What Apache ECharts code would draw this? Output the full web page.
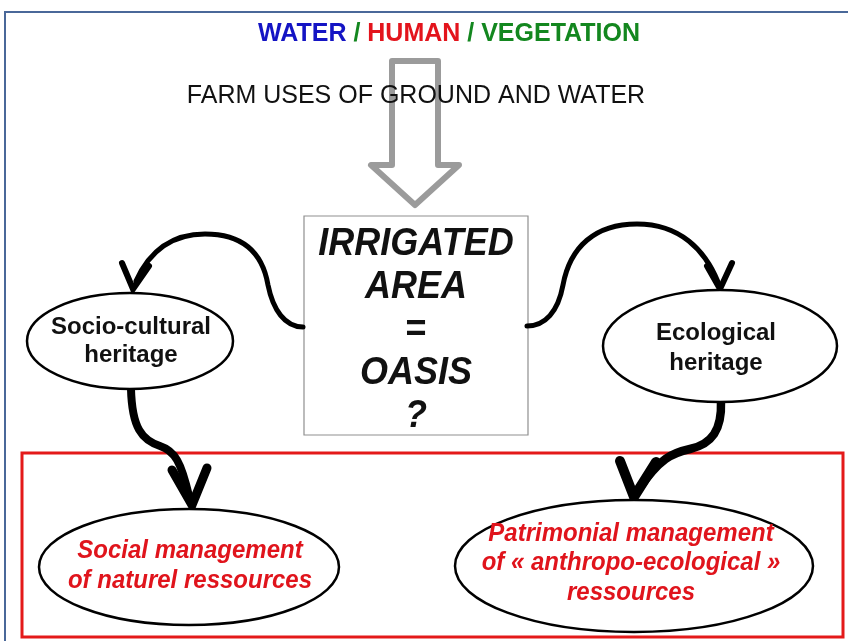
<!DOCTYPE html>
<html><head><meta charset="utf-8">
<script src="https://cdn.jsdelivr.net/npm/echarts@6/dist/echarts.min.js"></script>
<style>html,body{margin:0;padding:0;background:#fff}#c{width:848px;height:641px}</style>
</head><body><div id="c"></div>
<script>
// ---- text content (data) ----
const titleParts = ['WATER', '/', 'HUMAN', '/', 'VEGETATION'];
const subtitle = 'FARM USES OF GROUND AND WATER';
const centerLines = ['IRRIGATED', 'AREA', '=', 'OASIS', '?'];
const heritageLabels = ['Socio-cultural\nheritage', 'Ecological\nheritage'];
const managementLabels = ['Social management\nof naturel ressources', 'Patrimonial management\nof « anthropo-ecological »\nressources'];

// ---- layout (diagram space, same units as hidden axes) ----
const FONT = "'Liberation Sans', Arial, sans-serif";
const titleColors = ['#1414c4', '#13871f', '#e3141c', '#13871f', '#13871f'];
const titlePos = [449, 34];
const subtitlePos = [416, 96];
const grayArrow = [[392,61],[438,61],[438,165],[459,165],[415,205],[371,165],[392,165]];
const box = {x:304, y:216, w:224, h:219};
const centerLineY = [244, 287, 330, 373, 416];
const heritageShapes = [
  {cx:130, cy:341, rx:103, ry:48, tx:131, ty:341, lh:28, sy:1.0},
  {cx:720, cy:346, rx:117, ry:56, tx:716, ty:348, lh:30, sy:1.0}
];
const managementShapes = [
  {cx:189, cy:567, rx:150, ry:58, tx:190, ty:566, lh:27, sy:1.1},
  {cx:634, cy:566, rx:179, ry:66, tx:631, ty:563, lh:27, sy:1.1}
];
const redBox = {x:22, y:453, w:821, h:184};
// curves: [start, c1, c2, end, c1, c2, end, ...]
const curves = [
  {pts:[[303,327],[285,327],[273,310],[268,285],[262,250],[240,234],[205,234],[172,234],[150,250],[136,281]], w:5},
  {pts:[[527,326],[545,326],[558,312],[563,285],[570,247],[595,224],[637,224],[680,224],[705,250],[718,282]], w:5},
  {pts:[[131,389],[132,428],[142,440],[160,446],[175,451],[181,462],[189,496]], w:8},
  {pts:[[721,401],[722,430],[712,444],[690,449],[672,453],[660,458],[638,490]], w:8.5}
];
const chevrons = [
  {pts:[[122,263],[133,289],[149,266]], w:6},
  {pts:[[707,266],[720,289],[732,263]], w:6},
  {pts:[[172,470],[192,505],[207,468]], w:9},
  {pts:[[620,461],[634,497],[656,462]], w:10}
];

const chart = echarts.init(document.getElementById('c'), null, {renderer:'canvas'});

function renderItem(params, api) {
  const P = p => api.coord(p);
  const children = [];
  // outer frame
  children.push({type:'polyline', shape:{points:[P([5,641]),P([5,12]),P([848,12])]},
    style:{stroke:'#4a6899', lineWidth:2, fill:null}});
  // red box
  const r0 = P([redBox.x, redBox.y]), r1 = P([redBox.x+redBox.w, redBox.y+redBox.h]);
  children.push({type:'rect', shape:{x:r0[0], y:r0[1], width:r1[0]-r0[0], height:r1[1]-r0[1]},
    style:{stroke:'#e41a1a', lineWidth:3, fill:null}});
  // gray hollow arrow
  children.push({type:'polygon', shape:{points:grayArrow.map(P)},
    style:{stroke:'#9b9b9b', lineWidth:6, fill:null, lineJoin:'round'}});
  // subtitle
  const sp = P(subtitlePos);
  children.push({type:'text', style:{text:subtitle, x:sp[0], y:sp[1], fill:'#111',
    fontSize:25, fontFamily:FONT, fontWeight:'normal', align:'center', verticalAlign:'middle'}});
  // title (rich)
  const rich = {};
  let txt = '';
  titleParts.forEach((t,i) => {
    rich['p'+i] = {fill:titleColors[i], fontSize:25, fontWeight:'bold', fontFamily:FONT};
    txt += (i ? ' ' : '') + '{p'+i+'|'+t+'}';
  });
  const tp = P(titlePos);
  children.push({type:'text', style:{text:txt, rich:rich, x:tp[0], y:tp[1], fontSize:25, fontWeight:'bold', fontFamily:FONT,
    align:'center', verticalAlign:'middle'}});
  // center box
  const b0 = P([box.x, box.y]), b1 = P([box.x+box.w, box.y+box.h]);
  children.push({type:'rect', shape:{x:b0[0], y:b0[1], width:b1[0]-b0[0], height:b1[1]-b0[1]},
    style:{stroke:'#8f8f8f', lineWidth:1.2, fill:'#fff'}});
  centerLines.forEach((t,i) => {
    const c = P([box.x+box.w/2, centerLineY[i]]);
    children.push({type:'text', x:c[0], y:c[1], scaleY:1.08, style:{text:t, x:0, y:0, fill:'#111', fontSize:36,
      fontWeight:'bold', fontStyle: t === '=' ? 'normal' : 'italic', fontFamily:FONT, align:'center', verticalAlign:'middle'}});
  });
  // curves
  curves.forEach(cv => {
    const q = cv.pts.map(P);
    let d = 'M' + q[0][0] + ',' + q[0][1];
    for (let i = 1; i + 2 < q.length; i += 3) {
      d += ' C' + q[i].join(',') + ' ' + q[i+1].join(',') + ' ' + q[i+2].join(',');
    }
    children.push({type:'path', shape:{pathData:d},
      style:{stroke:'#000', lineWidth:cv.w, fill:null, lineCap:'round'}});
  });
  chevrons.forEach(ch => {
    children.push({type:'polyline', shape:{points:ch.pts.map(P)},
      style:{stroke:'#000', lineWidth:ch.w, fill:null, lineCap:'round', lineJoin:'miter'}});
  });
  // ellipses with labels
  function node(s, label, color, italic) {
    const c = P([s.cx, s.cy]);
    const e = P([s.cx + s.rx, s.cy + s.ry]);
    children.push({type:'ellipse', shape:{cx:c[0], cy:c[1], rx:e[0]-c[0], ry:e[1]-c[1]},
      style:{stroke:'#000', lineWidth:2.5, fill:'#fff'}});
    const t = P([s.tx, s.ty]);
    children.push({type:'text', x:t[0], y:t[1], scaleY:s.sy, style:{text:label, x:0, y:0, fill:color, fontSize:24,
      fontWeight:'bold', fontStyle: italic ? 'italic' : 'normal', fontFamily:FONT, lineHeight:s.lh,
      align:'center', verticalAlign:'middle'}});
  }
  heritageShapes.forEach((s,i) => node(s, heritageLabels[i], '#111', false));
  managementShapes.forEach((s,i) => node(s, managementLabels[i], '#e0141c', true));
  return {type:'group', children:children};
}

chart.setOption({
  animation:false,
  grid:{left:0, right:0, top:0, bottom:0},
  xAxis:{type:'value', min:0, max:848, show:false},
  yAxis:{type:'value', min:0, max:641, inverse:true, show:false},
  series:[{type:'custom', coordinateSystem:'cartesian2d', renderItem:renderItem, data:[[0,0]], silent:true, clip:false}]
});
</script></body></html>
